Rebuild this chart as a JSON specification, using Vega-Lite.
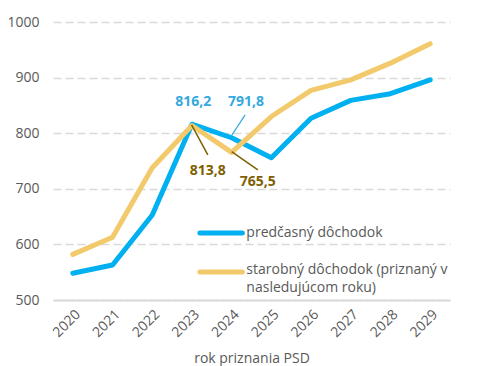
{
  "$schema": "https://vega.github.io/schema/vega-lite/v6.json",
  "width": 397,
  "height": 278,
  "autosize": {"type": "none"},
  "padding": {"left": 53, "top": 22, "right": 34, "bottom": 66},
  "background": "white",
  "config": {
    "view": {"stroke": null},
    "font": "Open Sans",
    "axis": {"labelFont": "Open Sans", "titleFont": "Open Sans", "labelColor": "#595959", "titleColor": "#595959", "labelFontSize": 14, "titleFontSize": 14, "titleFontWeight": "normal"}
  },
  "datasets": {
    "series": [
      {"year": 2020, "series": "predčasný dôchodok", "value": 548},
      {"year": 2021, "series": "predčasný dôchodok", "value": 563},
      {"year": 2022, "series": "predčasný dôchodok", "value": 653},
      {"year": 2023, "series": "predčasný dôchodok", "value": 816.2},
      {"year": 2024, "series": "predčasný dôchodok", "value": 791.8},
      {"year": 2025, "series": "predčasný dôchodok", "value": 756},
      {"year": 2026, "series": "predčasný dôchodok", "value": 827},
      {"year": 2027, "series": "predčasný dôchodok", "value": 859},
      {"year": 2028, "series": "predčasný dôchodok", "value": 871},
      {"year": 2029, "series": "predčasný dôchodok", "value": 896},
      {"year": 2020, "series": "starobný dôchodok", "value": 582},
      {"year": 2021, "series": "starobný dôchodok", "value": 613},
      {"year": 2022, "series": "starobný dôchodok", "value": 738},
      {"year": 2023, "series": "starobný dôchodok", "value": 813.8},
      {"year": 2024, "series": "starobný dôchodok", "value": 765.5},
      {"year": 2025, "series": "starobný dôchodok", "value": 830},
      {"year": 2026, "series": "starobný dôchodok", "value": 877},
      {"year": 2027, "series": "starobný dôchodok", "value": 896},
      {"year": 2028, "series": "starobný dôchodok", "value": 926},
      {"year": 2029, "series": "starobný dôchodok", "value": 961}
    ],
    "labels": [
      {"t": "816,2", "s": "p", "x": 2023.03, "y": 857},
      {"t": "791,8", "s": "p", "x": 2024.36, "y": 857},
      {"t": "813,8", "s": "s", "x": 2023.40, "y": 732},
      {"t": "765,5", "s": "s", "x": 2024.66, "y": 713}
    ],
    "leaders": [
      {"s": "p", "x": 2024.0, "y": 796, "x2": 2024.34, "y2": 833},
      {"s": "s", "x": 2022.99, "y": 815, "x2": 2023.40, "y2": 761},
      {"s": "s", "x": 2024.0, "y": 767, "x2": 2024.66, "y2": 734}
    ],
    "one": [{}]
  },
  "layer": [
    {
      "data": {"name": "series"},
      "mark": {"type": "line", "strokeWidth": 5, "strokeCap": "round", "strokeJoin": "round"},
      "encoding": {
        "x": {"field": "year", "type": "quantitative", "scale": {"domain": [2019.5, 2029.5], "nice": false, "zero": false},
          "axis": {"values": [2020, 2021, 2022, 2023, 2024, 2025, 2026, 2027, 2028, 2029], "format": "d", "labelAngle": -45, "grid": false, "ticks": false, "domain": true, "domainColor": "#D9D9D9", "domainWidth": 2, "labelPadding": 7, "title": "rok priznania PSD", "titlePadding": 12}},
        "y": {"field": "value", "type": "quantitative", "scale": {"domain": [500, 1000], "nice": false, "zero": false},
          "axis": {"values": [500, 600, 700, 800, 900, 1000], "format": "d", "title": null, "domain": false, "ticks": false, "labelPadding": 14, "grid": true, "gridColor": "#D9D9D9", "gridWidth": 1.5, "gridDash": [8, 4]}},
        "color": {"field": "series", "type": "nominal", "scale": {"domain": ["predčasný dôchodok", "starobný dôchodok"], "range": ["#00B0F0", "#F2C96B"]}, "legend": null}
      }
    },
    {
      "data": {"name": "leaders"},
      "transform": [{"filter": "datum.s == 'p'"}],
      "mark": {"type": "rule", "color": "#35A8E0", "strokeWidth": 1.2},
      "encoding": {
        "x": {"field": "x", "type": "quantitative"},
        "y": {"field": "y", "type": "quantitative"},
        "x2": {"field": "x2"},
        "y2": {"field": "y2"}
      }
    },
    {
      "data": {"name": "leaders"},
      "transform": [{"filter": "datum.s == 's'"}],
      "mark": {"type": "rule", "color": "#7F6000", "strokeWidth": 1.5},
      "encoding": {
        "x": {"field": "x", "type": "quantitative"},
        "y": {"field": "y", "type": "quantitative"},
        "x2": {"field": "x2"},
        "y2": {"field": "y2"}
      }
    },
    {
      "data": {"name": "labels"},
      "transform": [{"filter": "datum.s == 'p'"}],
      "mark": {"type": "text", "color": "#35A8E0", "fontSize": 14, "fontWeight": "bold", "align": "center", "baseline": "middle"},
      "encoding": {
        "x": {"field": "x", "type": "quantitative"},
        "y": {"field": "y", "type": "quantitative"},
        "text": {"field": "t"}
      }
    },
    {
      "data": {"name": "labels"},
      "transform": [{"filter": "datum.s == 's'"}],
      "mark": {"type": "text", "color": "#7F6000", "fontSize": 14, "fontWeight": "bold", "align": "center", "baseline": "middle"},
      "encoding": {
        "x": {"field": "x", "type": "quantitative"},
        "y": {"field": "y", "type": "quantitative"},
        "text": {"field": "t"}
      }
    },
    {
      "data": {"name": "one"},
      "mark": {"type": "rule", "color": "#00B0F0", "strokeWidth": 5, "strokeCap": "round"},
      "encoding": {"x": {"datum": 2023.2}, "x2": {"datum": 2024.27}, "y": {"datum": 620.7}}
    },
    {
      "data": {"name": "one"},
      "mark": {"type": "rule", "color": "#F2C96B", "strokeWidth": 5, "strokeCap": "round"},
      "encoding": {"x": {"datum": 2023.2}, "x2": {"datum": 2024.27}, "y": {"datum": 550.5}}
    },
    {
      "data": {"name": "one"},
      "mark": {"type": "text", "color": "#595959", "fontSize": 14, "align": "left", "baseline": "middle"},
      "encoding": {"x": {"datum": 2024.37}, "y": {"datum": 620.7}, "text": {"value": "predčasný dôchodok"}}
    },
    {
      "data": {"name": "one"},
      "mark": {"type": "text", "color": "#595959", "fontSize": 14, "align": "left", "baseline": "top", "lineHeight": 18},
      "encoding": {"x": {"datum": 2024.37}, "y": {"datum": 566.7}, "text": {"value": ["starobný dôchodok (priznaný v", "nasledujúcom roku)"]}}
    }
  ]
}
